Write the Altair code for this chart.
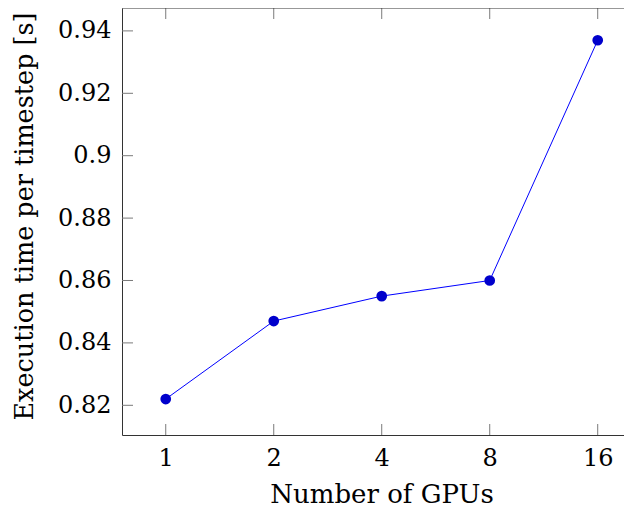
import altair as alt
import pandas as pd

# data
gpus = [1, 2, 4, 8, 16]
times = [0.822, 0.847, 0.855, 0.860, 0.937]
x_ticks = [1, 2, 4, 8, 16]
y_ticks = [0.82, 0.84, 0.86, 0.88, 0.90, 0.92, 0.94]

W = 502
H = 427
TICK = 11
FONT = "DejaVu Serif"
FRAME = "#333333"

df = pd.DataFrame({"gpus": gpus, "time": times})
df_xt = pd.DataFrame({"t": x_ticks})
df_yt = pd.DataFrame({"t": y_ticks})
df_edge = pd.DataFrame({"edge": [0]})

xscale = alt.Scale(type="log", base=2, domain=[0.7552, 18.94], nice=False)
yscale = alt.Scale(domain=[0.81048, 0.94734], nice=False, zero=False)

x_axis = alt.Axis(
    values=x_ticks, title="Number of GPUs", grid=False, domain=True,
    domainColor=FRAME, domainWidth=1,
    ticks=False, labelPadding=11, labelFontSize=24, labelFont=FONT,
    labelColor="black", titleFont=FONT, titleFontSize=26, titleColor="black",
    titleFontWeight="normal", titleBaseline="alphabetic", titleY=67,
    titleX=259.5, labelFlush=False, labelOverlap=False,
)
y_axis = alt.Axis(
    values=y_ticks, format=".2~f", title="Execution time per timestep [s]",
    grid=False, domain=True, domainColor=FRAME, domainWidth=1,
    ticks=False, labelPadding=11, labelFontSize=24,
    labelFont=FONT, labelColor="black", titleFont=FONT, titleFontSize=25.5,
    titleColor="black", titleFontWeight="normal", titleBaseline="alphabetic",
    titleX=-90, titleY=208, labelFlush=False, labelOverlap=False,
)

base = alt.Chart(df).encode(
    x=alt.X("gpus:Q", scale=xscale, axis=x_axis),
    y=alt.Y("time:Q", scale=yscale, axis=y_axis),
)
line = base.mark_line(color="#0000ff", strokeWidth=1)
points = base.mark_circle(size=115, color="#0000cc", opacity=1)

tick_color = "#7a7a7a"
xt_top = alt.Chart(df_xt).mark_rule(color=tick_color, strokeWidth=1).encode(
    x=alt.X("t:Q", scale=xscale), y=alt.value(0), y2=alt.value(TICK)
)
xt_bot = alt.Chart(df_xt).mark_rule(color=tick_color, strokeWidth=1).encode(
    x=alt.X("t:Q", scale=xscale), y=alt.value(H - TICK), y2=alt.value(H)
)
yt_left = alt.Chart(df_yt).mark_rule(color=tick_color, strokeWidth=1).encode(
    y=alt.Y("t:Q", scale=yscale), x=alt.value(0), x2=alt.value(TICK)
)
top_edge = alt.Chart(df_edge).mark_rule(color=FRAME, strokeWidth=1).encode(
    x=alt.value(0), x2=alt.value(W), y=alt.value(0)
)

chart = alt.layer(line, points, xt_top, xt_bot, yt_left, top_edge).properties(
    width=W,
    height=H,
    autosize=alt.AutoSizeParams(type="none"),
    padding={"left": 114, "top": 0, "right": 0, "bottom": 73},
).configure_view(stroke="transparent")

chart.save("out.html", embed_options={"renderer": "svg", "actions": False})
